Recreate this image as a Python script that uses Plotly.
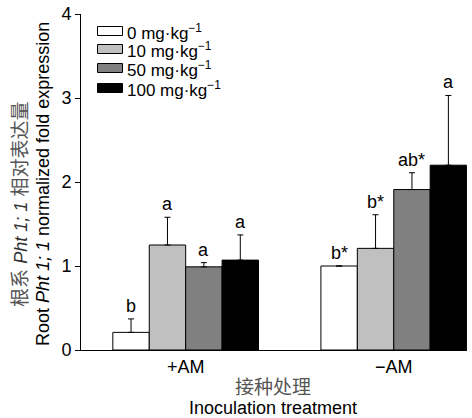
import plotly.graph_objects as go

groups = ["+AM", "\u2212AM"]
series_names = ["0 mg·kg<sup>\u22121</sup>", "10 mg·kg<sup>\u22121</sup>",
                "50 mg·kg<sup>\u22121</sup>", "100 mg·kg<sup>\u22121</sup>"]
colors = ["#ffffff", "#c0c0c0", "#808080", "#000000"]

values_0 = [0.21, 1.00]
values_10 = [1.25, 1.21]
values_50 = [0.99, 1.91]
values_100 = [1.07, 2.20]

err_0 = [0.16, 0.0]
err_10 = [0.33, 0.40]
err_50 = [0.05, 0.20]
err_100 = [0.30, 0.83]

letters_0 = ["b", "b*"]
letters_10 = ["a", "b*"]
letters_50 = ["a", "ab*"]
letters_100 = ["a", "a"]

yticks = [0, 1, 2, 3, 4]

values = [values_0, values_10, values_50, values_100]
errs = [err_0, err_10, err_50, err_100]
letters = [letters_0, letters_10, letters_50, letters_100]

FONT = "Arial, Liberation Sans, sans-serif"
MIX = "Liberation Sans, Noto Sans CJK SC, sans-serif"
FS = 18
xpos = list(range(len(groups)))

FIG_W, FIG_H = 472, 418
plot_l, plot_r, plot_t, plot_b = 81, 467, 14, 350
W = plot_r - plot_l
H = plot_b - plot_t
def px_x(px):
    return (px - plot_l) / W
def px_y(py):
    return (plot_b - py) / H

fig = go.Figure()
for i in range(4):
    fig.add_trace(go.Bar(
        x=xpos, y=values[i], name=series_names[i],
        marker=dict(color=colors[i], line=dict(color="black", width=1)),
        error_y=dict(type="data", symmetric=False, array=errs[i],
                     arrayminus=[0] * len(groups), color="black",
                     thickness=1, width=3),
        showlegend=False,
    ))

bargap = 0.30
groupw = 1 - bargap
barw = groupw / 4
annotations = []
for i in range(4):
    off = -groupw / 2 + barw * (i + 0.5)
    for g in xpos:
        top = values[i][g] + errs[i][g]
        annotations.append(dict(
            x=g + off, y=top, xref="x", yref="y", text=letters[i][g],
            showarrow=False, yanchor="bottom", yshift=1,
            font=dict(family=FONT, size=FS, color="black")))

shapes = []
row_centers = [31, 49, 68, 88]
for i in range(4):
    cy = row_centers[i]
    shapes.append(dict(type="rect", xref="paper", yref="paper",
                       x0=px_x(97.5), x1=px_x(122.5), y0=px_y(cy + 4.5), y1=px_y(cy - 4.5),
                       fillcolor=colors[i], line=dict(color="black", width=1)))
    annotations.append(dict(x=px_x(125), y=px_y(cy + 1), xref="paper", yref="paper",
                            text=series_names[i], showarrow=False,
                            xanchor="left", yanchor="middle",
                            font=dict(family=FONT, size=17, color="black")))

annotations.append(dict(x=px_x(20), y=px_y(204), xref="paper", yref="paper",
                        text="<span style='color:#555555;font-size:19px'>根系 </span><i>Pht 1; 1</i>"
                             "<span style='color:#555555;font-size:19px'> 相对表达量</span>",
                        textangle=-90,
                        showarrow=False, xanchor="center", yanchor="middle",
                        font=dict(family=MIX, size=FS, color="#333333")))
annotations.append(dict(x=px_x(43), y=px_y(184), xref="paper", yref="paper",
                        text="Root <i>Pht 1; 1</i> normalized fold expression", textangle=-90,
                        showarrow=False, xanchor="center", yanchor="middle",
                        font=dict(family=FONT, size=FS, color="black")))
annotations.append(dict(x=px_x(273), y=px_y(387), xref="paper", yref="paper",
                        text="接种处理", showarrow=False, xanchor="center", yanchor="middle",
                        font=dict(family=MIX, size=19, color="#555555")))
annotations.append(dict(x=px_x(273), y=px_y(408), xref="paper", yref="paper",
                        text="Inoculation treatment", showarrow=False, xanchor="center", yanchor="middle",
                        font=dict(family=FONT, size=FS, color="black")))

fig.update_layout(
    width=FIG_W, height=FIG_H,
    margin=dict(l=plot_l, r=FIG_W - plot_r, t=plot_t, b=FIG_H - plot_b, pad=0),
    paper_bgcolor="white", plot_bgcolor="white",
    barmode="group", bargap=bargap, bargroupgap=0,
    font=dict(family=FONT, size=FS, color="black"),
    showlegend=False,
    annotations=annotations, shapes=shapes,
    xaxis=dict(range=[-0.503, 1.352], tickvals=xpos, ticktext=groups,
               showline=True, linecolor="black", linewidth=1, ticks="",
               showgrid=False, zeroline=False, fixedrange=True,
               tickfont=dict(family=FONT, size=FS, color="black")),
    yaxis=dict(range=[0, 4], tickvals=yticks, showline=True, linecolor="black",
               linewidth=1, ticks="outside", ticklen=5, tickcolor="black",
               showgrid=False, zeroline=False, fixedrange=True,
               tickfont=dict(family=FONT, size=FS, color="black")),
)

fig.write_html("out.html", config={"displayModeBar": False},
               post_script="document.body.style.margin='0';document.body.style.overflow='hidden';")
